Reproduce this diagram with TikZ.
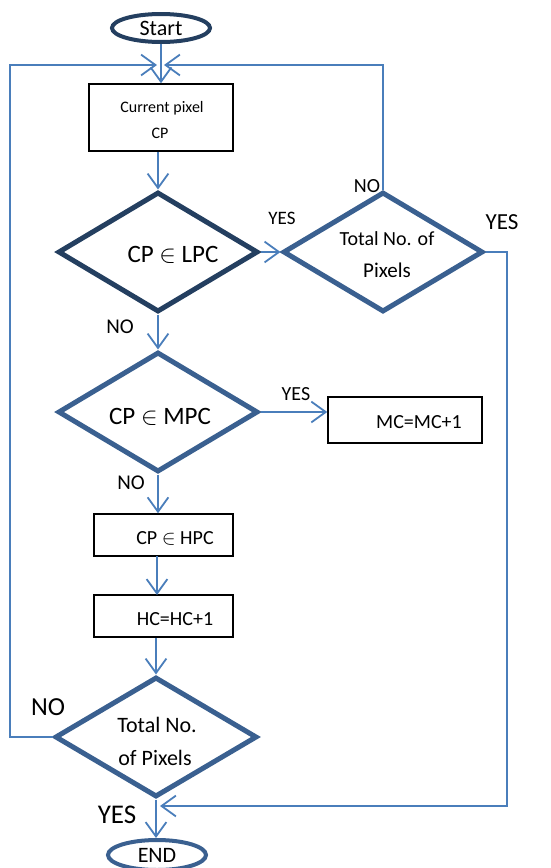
\documentclass[tikz,border=0pt]{standalone}
\usepackage{fontspec}
\setmainfont{Carlito}
\usetikzlibrary{shapes.geometric,arrows.meta}
\definecolor{connc}{HTML}{4A7EBB}
\definecolor{darkb}{HTML}{243F60}
\definecolor{midb}{HTML}{3A6090}
\newcommand{\fsz}[1]{\fontsize{#1}{#1}\selectfont}
\begin{document}
\begin{tikzpicture}[x=1pt,y=-1pt,
  conn/.style={draw=connc, line width=1.8pt, -{Straight Barb[length=9pt,width=13pt,scale=1.6]}},
  dia/.style={diamond, draw=midb, line width=5pt, minimum width=200pt, minimum height=120pt, inner sep=0pt},
  boxn/.style={rectangle, draw=black, line width=1.5pt, inner sep=0pt},
  term/.style={ellipse, draw=darkb, line width=4pt, minimum width=98pt, minimum height=28pt, inner sep=0pt},
  txt/.style={inner sep=0pt, text=black}]
\useasboundingbox (0,0) rectangle (550,868);

% nodes
\node[term] (start) at (161,28) {};
\node[txt, font=\fsz{22}] (starttxt) at (161,28) {Start};
\node[boxn, minimum width=144pt, minimum height=67pt] (cp) at (161,117.5) {};
\node[txt, font=\fsz{16}] (cptxt1) at (162,108) {Current pixel};
\node[txt, font=\fsz{16}] (cptxt2) at (160,133) {CP};
\node[dia, draw=darkb] (d1) at (158,252) {};
\node[txt, font=\fsz{25}] (d1txt) at (173,255) {CP $\in$ LPC};
\node[dia] (d2) at (383,252) {};
\node[txt, font=\fsz{20}] (d2txt1) at (387,239) {Total No. of};
\node[txt, font=\fsz{21}] (d2txt2) at (387,270) {Pixels};
\node[dia] (d3) at (158,412) {};
\node[txt, font=\fsz{25}] (d3txt) at (160,417) {CP $\in$ MPC};
\node[boxn, minimum width=154pt, minimum height=46pt] (mc) at (405,420) {};
\node[txt, font=\fsz{20}] (mctxt) at (419,422) {MC=MC+1};
\node[boxn, minimum width=139pt, minimum height=42pt] (hpc) at (163.5,535) {};
\node[txt, font=\fsz{20}] (hpctxt) at (175,538) {CP $\in$ HPC};
\node[boxn, minimum width=139pt, minimum height=42pt] (hc) at (163.5,616) {};
\node[txt, font=\fsz{20}] (hctxt) at (175,619) {HC=HC+1};
\node[dia, minimum width=202pt] (d4) at (156,737) {};
\node[txt, font=\fsz{22}] (d4txt1) at (157,725) {Total No.};
\node[txt, font=\fsz{22}] (d4txt2) at (155,758) {of Pixels};
\node[term, draw=midb, minimum width=98pt, minimum height=30pt] (end) at (157,855) {};
\node[txt, font=\fsz{22}] (endtxt) at (157,855) {END};

% junction coordinates
\coordinate (jl) at (157,65);
\coordinate (jr) at (164,65);
\coordinate (lx) at (10,65);
\coordinate (rx) at (507,806);
\coordinate (jb) at (160,806);

% connectors
\draw[conn] (start.south) -- (start.south |- cp.north);
\draw[conn] (d1.north |- cp.south) -- (d1.north);
\draw[conn] (d1.east) -- (d2.west);
\draw[conn] (d2.north) |- (jr);
\draw[conn] (d2.east) -| (rx) -- (jb);
\draw[conn] (d1.south) -- (d3.north);
\draw[conn] (d3.east) -- (d3.east -| mc.west);
\draw[conn] (d3.south) -- (d3.south |- hpc.north);
\draw[conn] (157,556) -- (157,595);
\draw[conn] (d4.north |- hc.south) -- (d4.north);
\draw[conn] (d4.west) -| (lx) -- (jl);
\draw[conn] (d4.south) -- (d4.south |- end.north);

% labels
\node[txt, font=\fsz{19}] (l1) at (282,218) {YES};
\node[txt, font=\fsz{20}] (l2) at (367,186) {NO};
\node[txt, font=\fsz{23}] (l3) at (502,222) {YES};
\node[txt, font=\fsz{21}] (l4) at (120,327) {NO};
\node[txt, font=\fsz{20}] (l5) at (296,394) {YES};
\node[txt, font=\fsz{21}] (l6) at (131,483) {NO};
\node[txt, font=\fsz{26}] (l7) at (48,707) {NO};
\node[txt, font=\fsz{27}] (l8) at (117,815) {YES};
\end{tikzpicture}
\end{document}
